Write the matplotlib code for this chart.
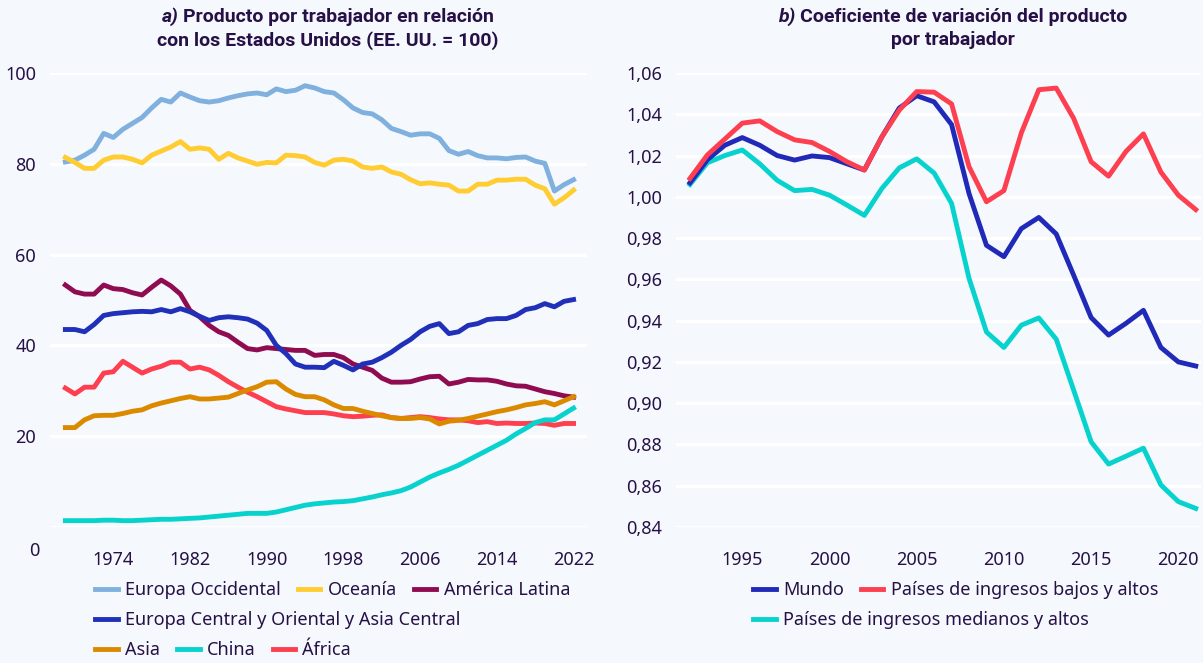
import numpy as np
import matplotlib.pyplot as plt
from matplotlib.ticker import FuncFormatter
from matplotlib.offsetbox import TextArea, HPacker, VPacker, AnchoredOffsetbox

# ---- data, panel a (1969-2022) ----
years_a = list(range(1969, 2023))
europa_occidental = [80.4, 80.8, 81.9, 83.2, 86.7, 85.8, 87.6, 88.9, 90.2, 92.3,
                     94.2, 93.6, 95.6, 94.7, 93.9, 93.6, 93.9, 94.5, 95.0, 95.4,
                     95.6, 95.2, 96.5, 95.9, 96.2, 97.2, 96.7, 95.9, 95.6, 94.1,
                     92.3, 91.3, 91.0, 89.7, 87.8, 87.1, 86.3, 86.6, 86.6, 85.6,
                     82.9, 82.1, 82.7, 81.8, 81.3, 81.3, 81.1, 81.4, 81.5, 80.6,
                     80.1, 74.0, 75.4, 76.5]
oceania = [81.4, 80.3, 79.0, 79.0, 80.8, 81.5, 81.5, 81.0, 80.2, 81.9,
           82.8, 83.7, 84.9, 83.2, 83.5, 83.2, 81.0, 82.3, 81.3, 80.6,
           79.9, 80.3, 80.2, 81.9, 81.8, 81.5, 80.3, 79.7, 80.8, 81.0,
           80.6, 79.3, 79.0, 79.3, 78.2, 77.7, 76.5, 75.6, 75.8, 75.5,
           75.3, 74.0, 74.0, 75.5, 75.5, 76.4, 76.4, 76.6, 76.6, 75.3,
           74.5, 71.1, 72.5, 74.2]
america_latina = [53.3, 51.8, 51.3, 51.3, 53.3, 52.5, 52.3, 51.6, 51.1, 52.8,
                  54.4, 53.1, 51.3, 47.7, 46.3, 44.4, 43.0, 42.2, 40.7, 39.3,
                  39.0, 39.5, 39.3, 39.1, 38.9, 38.9, 37.8, 38.0, 38.0, 37.3,
                  35.9, 35.2, 34.5, 32.8, 31.9, 31.9, 32.0, 32.6, 33.1, 33.2,
                  31.5, 31.9, 32.5, 32.4, 32.4, 32.1, 31.5, 31.1, 31.0, 30.4,
                  29.8, 29.4, 28.9, 28.6]
europa_central = [43.5, 43.5, 43.0, 44.6, 46.6, 47.0, 47.2, 47.4, 47.5, 47.4,
                  47.9, 47.4, 48.1, 47.4, 46.4, 45.5, 46.1, 46.3, 46.1, 45.8,
                  44.9, 43.3, 40.0, 38.2, 35.9, 35.2, 35.2, 35.1, 36.5, 35.6,
                  34.6, 35.9, 36.3, 37.3, 38.5, 40.0, 41.3, 43.0, 44.2, 44.8,
                  42.6, 43.0, 44.4, 44.8, 45.7, 45.9, 45.9, 46.6, 47.9, 48.3,
                  49.2, 48.5, 49.7, 50.1]
asia = [21.9, 21.9, 23.6, 24.5, 24.6, 24.6, 25.0, 25.5, 25.8, 26.7,
        27.3, 27.8, 28.3, 28.7, 28.2, 28.2, 28.4, 28.6, 29.4, 30.2,
        30.9, 31.9, 32.0, 30.4, 29.2, 28.7, 28.7, 28.0, 26.9, 26.1,
        26.1, 25.5, 25.0, 24.5, 24.1, 23.9, 23.9, 24.1, 23.8, 22.7,
        23.3, 23.5, 23.9, 24.4, 24.9, 25.4, 25.8, 26.3, 26.9, 27.2,
        27.6, 26.9, 27.8, 28.7]
china = [1.4, 1.4, 1.4, 1.4, 1.5, 1.5, 1.4, 1.4, 1.5, 1.6,
         1.7, 1.7, 1.8, 1.9, 2.0, 2.2, 2.4, 2.6, 2.8, 3.0,
         3.0, 3.0, 3.3, 3.8, 4.3, 4.8, 5.1, 5.3, 5.5, 5.6,
         5.8, 6.2, 6.6, 7.1, 7.5, 8.0, 8.8, 9.9, 11.0, 11.9,
         12.7, 13.6, 14.7, 15.8, 16.9, 18.0, 19.1, 20.5, 21.7, 23.0,
         23.6, 23.6, 24.9, 26.2]
africa = [30.6, 29.3, 30.8, 30.8, 33.9, 34.2, 36.5, 35.2, 33.9, 34.8,
          35.4, 36.3, 36.3, 34.8, 35.2, 34.6, 33.4, 32.0, 30.8, 29.7,
          28.7, 27.6, 26.5, 26.0, 25.6, 25.2, 25.2, 25.2, 24.9, 24.5,
          24.3, 24.4, 24.6, 24.7, 24.1, 23.9, 24.1, 24.3, 24.1, 23.8,
          23.6, 23.6, 23.4, 23.0, 23.2, 22.8, 22.9, 22.8, 22.8, 22.9,
          22.8, 22.4, 22.8, 22.8]
xticks_a = [1974, 1982, 1990, 1998, 2006, 2014, 2022]
yticks_a = [20, 40, 60, 80, 100]

# ---- data, panel b (1992-2021) ----
years_b = list(range(1992, 2022))
mundo = [1.0068, 1.018, 1.025, 1.0287, 1.025, 1.020, 1.0178, 1.0198, 1.019, 1.016,
         1.013, 1.029, 1.043, 1.049, 1.046, 1.035, 1.0016, 0.9765, 0.971, 0.9846,
         0.990, 0.982, 0.962, 0.9415, 0.933, 0.9387, 0.945, 0.927, 0.920, 0.918]
bajos_altos = [1.0089, 1.0203, 1.028, 1.0357, 1.0368, 1.0316, 1.0276, 1.0263, 1.022, 1.017,
               1.013, 1.029, 1.042, 1.051, 1.0507, 1.045, 1.0146, 0.9976, 1.003, 1.031,
               1.0519, 1.0527, 1.038, 1.017, 1.010, 1.022, 1.0305, 1.012, 1.0008, 0.9938]
medianos_altos = [1.006, 1.0165, 1.020, 1.0227, 1.016, 1.008, 1.003, 1.0036, 1.0008, 0.996,
                  0.991, 1.004, 1.014, 1.0184, 1.0115, 0.9968, 0.9605, 0.9345, 0.927, 0.9378,
                  0.9413, 0.931, 0.9063, 0.8813, 0.8705, 0.8743, 0.8782, 0.8604, 0.8523, 0.849]
xticks_b = [1995, 2000, 2005, 2010, 2015, 2020]
yticks_b = [0.84, 0.86, 0.88, 0.90, 0.92, 0.94, 0.96, 0.98, 1.00, 1.02, 1.04, 1.06]

BG = '#f5f9fd'
TEXT = '#261046'
W, H = 1203, 663
LW = 3.5

plt.rcParams['font.family'] = ['Noto Sans', 'DejaVu Sans']
plt.rcParams['font.size'] = 13


def style_axes(ax):
    ax.set_facecolor(BG)
    for s in ax.spines.values():
        s.set_visible(False)
    ax.grid(axis='y', color='white', linewidth=2.2, zorder=0)
    ax.set_axisbelow(True)
    ax.tick_params(length=0, labelsize=13, labelcolor=TEXT)
    ax.tick_params(axis='x', pad=17)
    ax.tick_params(axis='y', pad=10)


def add_title(fig, x, y, letter, line1, line2):
    props = dict(fontsize=14, fontweight='bold', color=TEXT,
                 family=['Roboto', 'DejaVu Sans'])
    a = TextArea(letter, textprops=dict(props, style='italic'))
    b = TextArea(line1, textprops=props)
    row1 = HPacker(children=[a, b], align='baseline', pad=0, sep=3)
    row2 = TextArea(line2, textprops=props)
    box = VPacker(children=[row1, row2], align='center', pad=0, sep=4)
    ab = AnchoredOffsetbox(loc='upper center', child=box, frameon=False,
                           bbox_to_anchor=(x / W, 1 - y / H),
                           bbox_transform=fig.transFigure, borderpad=0, pad=0)
    fig.add_artist(ab)


def legend_row(fig, handles, x, y):
    fig.legend(handles, [h.get_label() for h in handles], loc='center left',
               bbox_to_anchor=(x / W, 1 - y / H), ncol=len(handles),
               frameon=False, borderpad=0, borderaxespad=0, handlelength=1.25,
               handletextpad=0.4, columnspacing=0.95, fontsize=13,
               labelcolor=TEXT)


fig = plt.figure(figsize=(W / 100, H / 100), dpi=100, facecolor=BG)

# ---- panel a ----
ax1 = fig.add_axes([50 / W, 1 - 527 / H, (587 - 50) / W, (527 - 73) / H])
style_axes(ax1)
l_eo, = ax1.plot(years_a, europa_occidental, color='#80b1de', lw=LW, label='Europa Occidental')
l_oc, = ax1.plot(years_a, oceania, color='#ffcd31', lw=LW, label='Oceanía')
l_al, = ax1.plot(years_a, america_latina, color='#900c51', lw=LW, label='América Latina')
l_ec, = ax1.plot(years_a, europa_central, color='#2030b8', lw=LW,
                 label='Europa Central y Oriental y Asia Central')
l_af, = ax1.plot(years_a, africa, color='#fd3f4f', lw=LW, label='África')
l_as, = ax1.plot(years_a, asia, color='#db8a00', lw=LW, label='Asia')
l_ch, = ax1.plot(years_a, china, color='#08d2cd', lw=LW, label='China')
ax1.set_xlim(1967.4, 2023.4)
ax1.set_ylim(0, 100)
ax1.set_xticks(xticks_a)
ax1.set_yticks([0] + yticks_a)
ax1.set_yticklabels([''] + [str(v) for v in yticks_a])
ax1.text(-0.019, -5.3, '0', transform=ax1.get_yaxis_transform(), ha='right',
         va='center', fontsize=13, color=TEXT)

# ---- panel b ----
ax2 = fig.add_axes([676 / W, 1 - 527 / H, (1201 - 676) / W, (527 - 73) / H])
style_axes(ax2)
r_med, = ax2.plot(years_b, medianos_altos, color='#08d2cd', lw=LW,
                  label='Países de ingresos medianos y altos')
r_mun, = ax2.plot(years_b, mundo, color='#2129b8', lw=LW, label='Mundo')
r_baj, = ax2.plot(years_b, bajos_altos, color='#fd3f4f', lw=LW,
                  label='Países de ingresos bajos y altos')
ax2.set_xlim(1991.2, 2021.3)
ax2.set_ylim(0.84, 1.06)
ax2.set_xticks(xticks_b)
ax2.set_yticks(yticks_b)
ax2.yaxis.set_major_formatter(FuncFormatter(lambda v, p: f'{v:.2f}'.replace('.', ',')))

# ---- titles ----
add_title(fig, 328, 7, 'a)', 'Producto por trabajador en relación',
          'con los Estados Unidos (EE. UU. = 100)')
add_title(fig, 953, 7, 'b)', 'Coeficiente de variación del producto',
          'por trabajador')

# ---- legends ----
legend_row(fig, [l_eo, l_oc, l_al], 95, 590)
legend_row(fig, [l_ec], 95, 620)
legend_row(fig, [l_as, l_ch, l_af], 95, 650)
legend_row(fig, [r_mun, r_baj], 753, 590)
legend_row(fig, [r_med], 753, 620)

fig.savefig('out.png', dpi=100, facecolor=BG)
